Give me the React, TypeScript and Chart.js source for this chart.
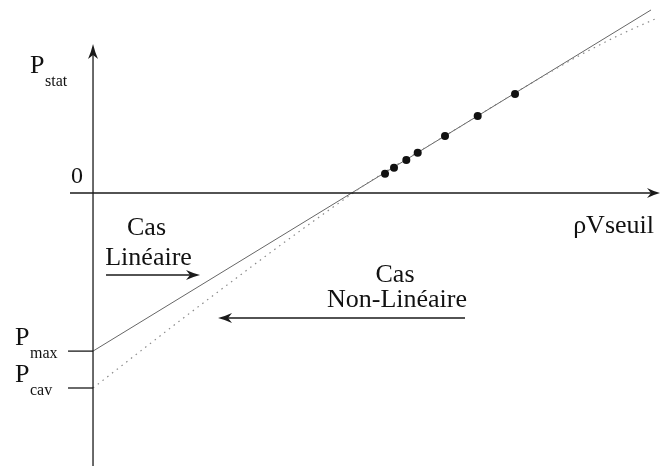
import React, { useEffect, useRef } from "react";
import { Chart, registerables } from "chart.js";

Chart.register(...registerables);

// ---- Data (schematic units) ----
const linearX = [0, 10];
const linearY = [-3, 3.473];

const nonLinearX = [0, 1.559, 2.455, 3.118, 3.71, 4.247, 4.606, 4.839, 6.5, 7.885, 8.728, 9.444, 10.125];
const nonLinearY = [-3.7, -2.421, -1.704, -1.178, -0.719, -0.309, -0.042, 0.132, 1.208, 2.103, 2.615, 3.002, 3.326];

const measuredX = [5.233, 5.394, 5.615, 5.819, 6.308, 6.894, 7.563];
const measuredY = [0.365, 0.48, 0.626, 0.765, 1.082, 1.461, 1.879];

const yTickValues = [-3, -3.7];
const yTickMain = ["P", "P"];
const yTickSub = ["max", "cav"];

const xAxisLabel = "ρVseuil";
const yAxisMain = "P";
const yAxisSub = "stat";
const zeroLabel = "0";

const FONT = "'Liberation Serif', 'DejaVu Serif', serif";

function arrowHead(ctx: CanvasRenderingContext2D, x: number, y: number, angle: number, len = 14, half = 5, notch = 4) {
  ctx.save();
  ctx.translate(x, y);
  ctx.rotate(angle);
  ctx.beginPath();
  ctx.moveTo(0, 0);
  ctx.quadraticCurveTo(-len * 0.5, -half * 0.35, -len, -half);
  ctx.lineTo(-len + notch, 0);
  ctx.lineTo(-len, half);
  ctx.quadraticCurveTo(-len * 0.5, half * 0.35, 0, 0);
  ctx.closePath();
  ctx.fill();
  ctx.restore();
}

const overlay = {
  id: "overlay",
  afterDraw(chart: any) {
    const ctx: CanvasRenderingContext2D = chart.ctx;
    const xs = chart.scales.x;
    const ys = chart.scales.y;
    const X = (v: number) => xs.getPixelForValue(v);
    const Y = (v: number) => ys.getPixelForValue(v);
    const ax = X(0);
    const ay = Y(0);
    ctx.save();
    ctx.strokeStyle = "#1a1a1a";
    ctx.fillStyle = "#1a1a1a";
    ctx.lineWidth = 1.3;
    // y axis
    ctx.beginPath();
    ctx.moveTo(ax, chart.height);
    ctx.lineTo(ax, 52);
    ctx.stroke();
    arrowHead(ctx, ax, 44, -Math.PI / 2, 15, 5, 4);
    // x axis
    ctx.beginPath();
    ctx.moveTo(70, ay);
    ctx.lineTo(652, ay);
    ctx.stroke();
    arrowHead(ctx, 660, ay, 0, 13, 5, 4);
    // tick marks
    yTickValues.forEach((v) => {
      ctx.beginPath();
      ctx.moveTo(ax - 25, Y(v));
      ctx.lineTo(ax, Y(v));
      ctx.stroke();
    });
    ctx.fillStyle = "#111";
    ctx.textBaseline = "alphabetic";
    ctx.textAlign = "left";
    // tick labels
    yTickValues.forEach((v, i) => {
      const ty = Y(v);
      ctx.font = `26px ${FONT}`;
      ctx.fillText(yTickMain[i], 15, ty - 6);
      ctx.font = `16px ${FONT}`;
      ctx.fillText(yTickSub[i], 30, ty + 7);
    });
    // axis title
    ctx.font = `26px ${FONT}`;
    ctx.fillText(yAxisMain, 30, 73);
    ctx.font = `16px ${FONT}`;
    ctx.fillText(yAxisSub, 45, 86);
    ctx.font = `24px ${FONT}`;
    ctx.textAlign = "right";
    ctx.fillText(zeroLabel, ax - 10, ay - 10);
    ctx.font = `26px ${FONT}`;
    ctx.fillText(xAxisLabel, 654, ay + 40);
    // annotations
    ctx.textAlign = "center";
    ctx.fillText("Cas", X(0.959), Y(-0.797));
    ctx.fillText("Linéaire", X(0.995), Y(-1.366));
    ctx.fillText("Cas", X(5.412), Y(-1.689));
    ctx.fillText("Non-Linéaire", X(5.448), Y(-2.163));
    // arrows
    ctx.lineWidth = 1.3;
    ctx.fillStyle = "#1a1a1a";
    const y1 = Y(-1.556);
    ctx.beginPath();
    ctx.moveTo(X(0.233), y1);
    ctx.lineTo(X(1.918) - 8, y1);
    ctx.stroke();
    arrowHead(ctx, X(1.918), y1, 0);
    const y2 = Y(-2.372);
    ctx.beginPath();
    ctx.moveTo(X(6.667), y2);
    ctx.lineTo(X(2.24) + 8, y2);
    ctx.stroke();
    arrowHead(ctx, X(2.24), y2, Math.PI);
    ctx.restore();
  },
};

export default function App() {
  const ref = useRef<HTMLCanvasElement | null>(null);
  useEffect(() => {
    if (!ref.current) return;
    const chart = new Chart(ref.current, {
      type: "scatter",
      data: {
        datasets: [
          {
            data: linearX.map((x, i) => ({ x, y: linearY[i] })),
            showLine: true,
            borderColor: "#666",
            borderWidth: 1,
            pointRadius: 0,
            order: 2,
          },
          {
            data: nonLinearX.map((x, i) => ({ x, y: nonLinearY[i] })),
            showLine: true,
            borderColor: "#8a8a8a",
            borderWidth: 1.2,
            borderDash: [1.5, 4.5],
            cubicInterpolationMode: "monotone",
            pointRadius: 0,
            order: 1,
          },
          {
            data: measuredX.map((x, i) => ({ x, y: measuredY[i] })),
            showLine: false,
            pointRadius: 4,
            pointBackgroundColor: "#111",
            pointBorderColor: "#111",
            pointBorderWidth: 0,
            order: 0,
          },
        ],
      } as any,
      options: {
        animation: false,
        responsive: false,
        clip: false,
        layout: { padding: 0, autoPadding: false },
        plugins: { legend: { display: false }, tooltip: { enabled: false } },
        events: [],
        scales: {
          x: { type: "linear", min: -1.667, max: 10.161, display: false },
          y: { type: "linear", min: -5.18, max: 3.662, display: false },
        },
      } as any,
      plugins: [overlay],
    });
    return () => chart.destroy();
  }, []);
  return (
    <div style={{ position: "fixed", left: 0, top: 0, width: 660, height: 466, background: "#fff" }}>
      <canvas ref={ref} width={660} height={466} style={{ display: "block" }} />
    </div>
  );
}
